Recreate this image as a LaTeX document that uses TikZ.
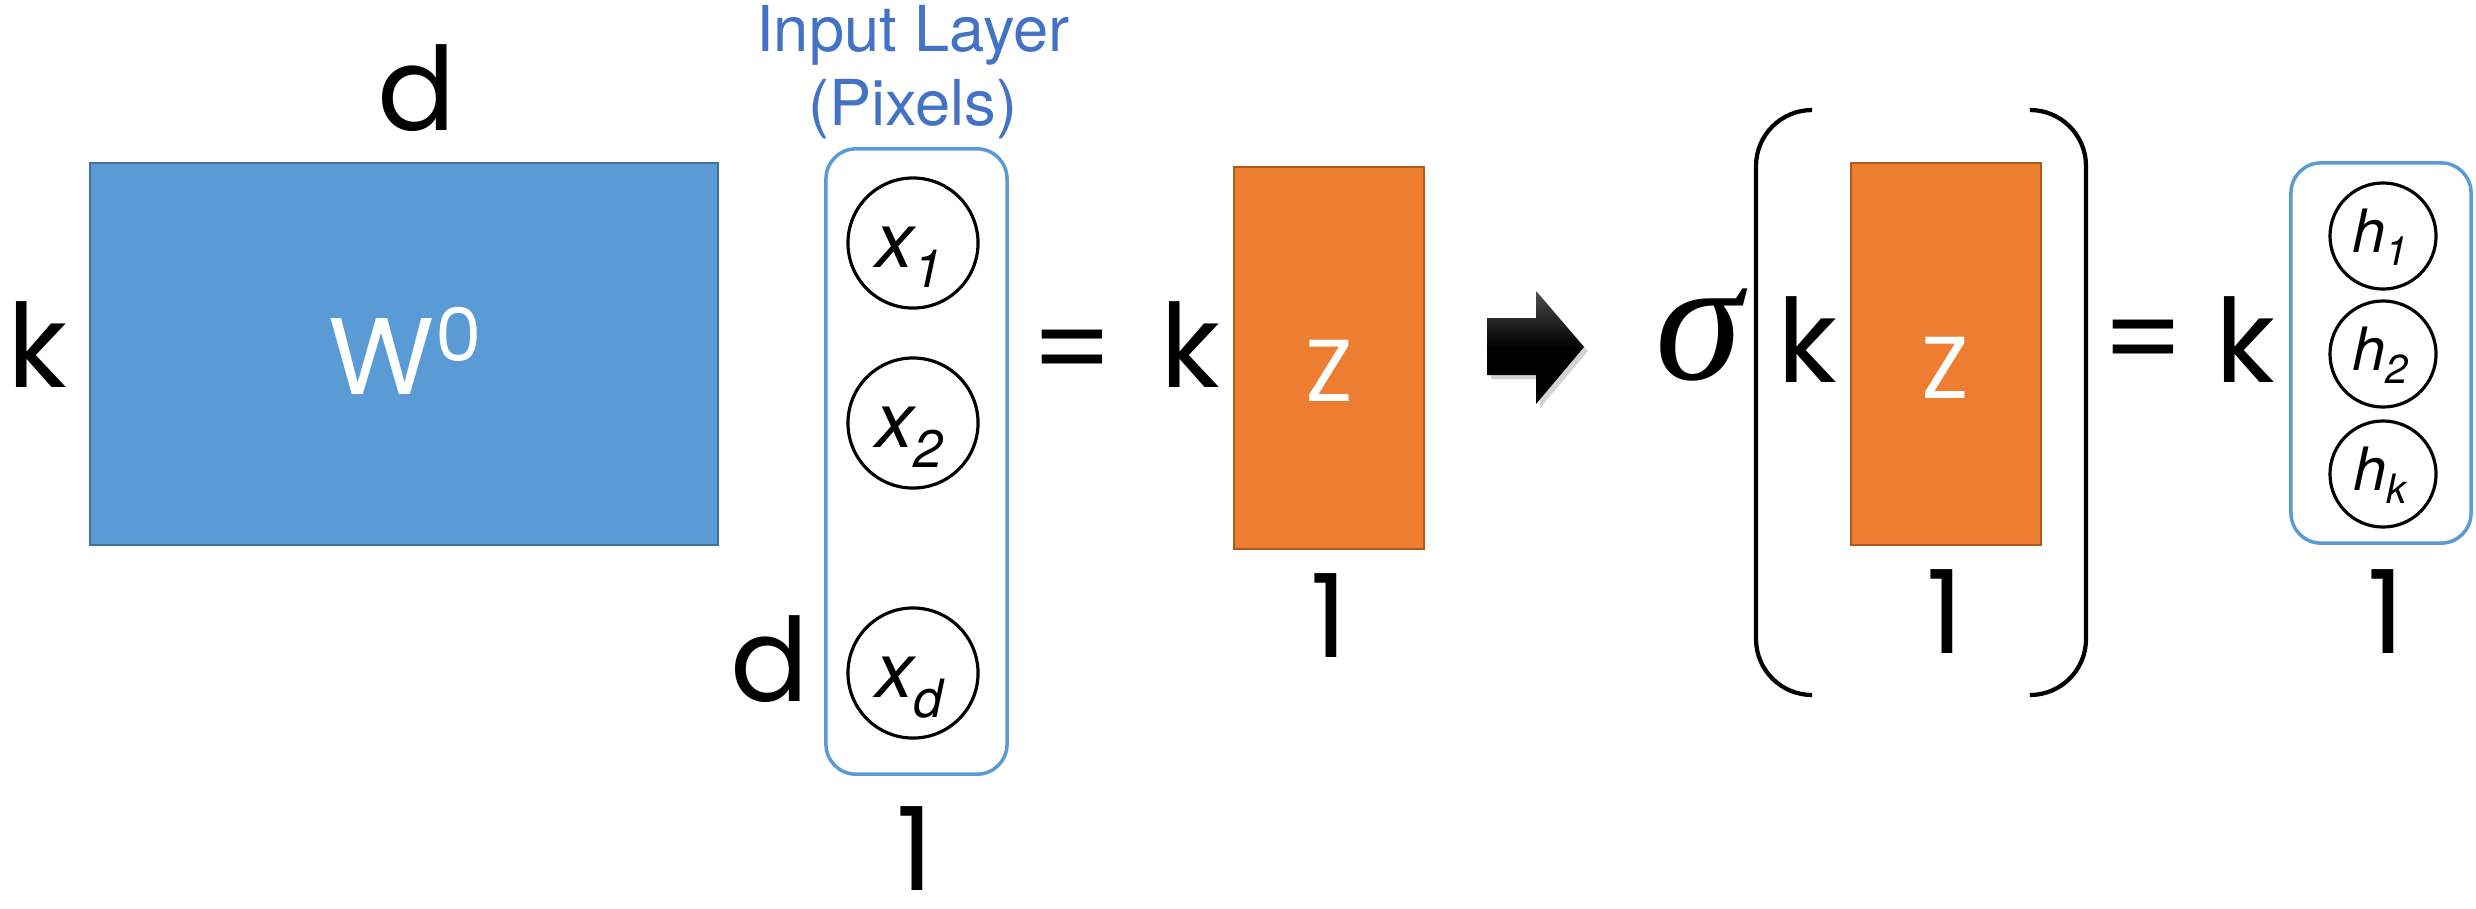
\documentclass[tikz,border=0pt]{standalone}
\usepackage{fontspec}
\usetikzlibrary{shadows}
\newfontfamily\geo{Poppins}
\newfontfamily\helv{TeX Gyre Heros}
\newfontfamily\grk{Liberation Serif}
\definecolor{wblue}{HTML}{5B9BD5}
\definecolor{wblueedge}{HTML}{41719C}
\definecolor{zorange}{HTML}{ED7D31}
\definecolor{zorangeedge}{HTML}{AE5A21}
\definecolor{layerblue}{HTML}{4472C4}
\definecolor{boxblue}{HTML}{5B9BD5}
\tikzset{
  big/.style={font=\geo\fontsize{33}{33}\selectfont, anchor=base, inner sep=0pt},
  zlab/.style={font=\geo\fontsize{25}{25}\selectfont, anchor=base, inner sep=0pt, text=white},
  unitbox/.style={draw=boxblue, line width=1pt, rounded corners=0.3cm, minimum width=#1},
  neuron/.style={draw=black, line width=0.9pt, circle, inner sep=0pt, minimum size=#1},
  xlab/.style={font=\helv\itshape\fontsize{22}{22}\selectfont, anchor=base, inner sep=0pt},
  hlab/.style={font=\helv\itshape\fontsize{17}{17}\selectfont, anchor=base, inner sep=0pt},
  paren/.style={line width=1.2pt, rounded corners=0.56cm},
}
\newcommand{\xsub}[1]{\raisebox{-0.27em}{\fontsize{15}{15}\selectfont #1}}
\newcommand{\hsub}[1]{\raisebox{-0.22em}{\fontsize{11.5}{11.5}\selectfont #1}}
\begin{document}
\begin{tikzpicture}[x=0.01cm, y=-0.01cm]
\useasboundingbox (0,0) rectangle (2476,908);

% weight matrix
\node[draw=wblueedge, fill=wblue, line width=0.6pt, minimum width=6.28cm, minimum height=3.82cm, inner sep=0pt] (W) at (404,354) {};
\node[anchor=base, inner sep=0pt, text=white] (Wlab) at (405,394) {\geo\fontsize{31}{31}\selectfont W\raisebox{0.3em}{\fontsize{21}{21}\selectfont 0}};
\node[big] (dtop) at (417,130) {d};
\node[big] (kleft) at (37,387) {k};

% input layer
\node[font=\helv\fontsize{18}{22}\selectfont, text=layerblue, align=center, inner sep=0pt] (inlab) at (913,72) {Input Layer\\[-1pt](Pixels)};
\node[unitbox=1.81cm, minimum height=6.25cm] (inbox) at (916.5,461.5) {};
\node[neuron=1.3cm] (x1) at (913,243) {};
\node[neuron=1.3cm] (x2) at (913,423) {};
\node[neuron=1.3cm] (xd) at (913,673) {};
\node[xlab] at (909,267) {x\xsub{1}};
\node[xlab] at (909,447) {x\xsub{2}};
\node[xlab] at (909,697) {x\xsub{d}};
\node[big] (dleft) at (770,701) {d};
\node[big, text depth=0pt] (one1) at (915,890) {1};

\node[big, anchor=center] (eq1) at (1072,360) {=};

% z
\node[big] (k2) at (1190,387) {k};
\node[draw=zorangeedge, fill=zorange, line width=0.6pt, minimum width=1.9cm, minimum height=3.82cm, inner sep=0pt] (Z1) at (1329,358) {};
\node[zlab] at (1329,401) {Z};
\node[big] (one2) at (1329,657) {1};

% arrow
\shade[top color=black!70, bottom color=black, middle color=black, drop shadow={opacity=0.35, shadow xshift=0.04cm, shadow yshift=-0.04cm}]
  (1487,318) -- (1536,318) -- (1536,291) -- (1584,347) -- (1536,404) -- (1536,375) -- (1487,375) -- cycle;

% sigma(...)
\node[anchor=base, inner sep=0pt] (sig) at (1699,379) {\grk\itshape\fontsize{50}{50}\selectfont σ};
\draw[paren] (1809,110) -- (1756,110) -- (1756,695) -- (1809,695);
\draw[paren] (2032,110) -- (2086,110) -- (2086,695) -- (2032,695);
\node[big] (k3) at (1807,382) {k};
\node[draw=zorangeedge, fill=zorange, line width=0.6pt, minimum width=1.9cm, minimum height=3.82cm, inner sep=0pt] (Z2) at (1946,354) {};
\node[zlab] at (1945,398) {Z};
\node[big] (one3) at (1945,653) {1};

\node[big, anchor=center] (eq2) at (2143,350) {=};
\node[big] (k4) at (2245,382) {k};

% output
\node[unitbox=1.8cm, minimum height=3.8cm] (outbox) at (2381,353) {};
\node[neuron=1.06cm] (h1) at (2383,236) {};
\node[neuron=1.06cm] (h2) at (2383,354) {};
\node[neuron=1.06cm] (hk) at (2383,474) {};
\node[hlab] at (2380,252) {h\hsub{1}};
\node[hlab] at (2380,370) {h\hsub{2}};
\node[hlab] at (2380,490) {h\hsub{k}};
\node[big] (one4) at (2386,653) {1};
\end{tikzpicture}
\end{document}
